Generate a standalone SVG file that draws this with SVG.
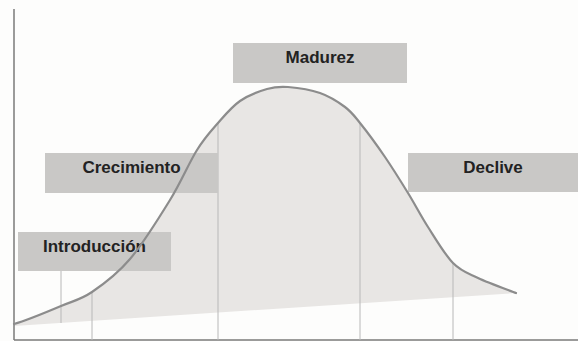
<svg xmlns="http://www.w3.org/2000/svg" width="578" height="341" viewBox="0 0 578 341">
<defs>
<style>
.box{fill:#c9c8c6}
.lbl{font-family:"Liberation Sans",Arial,sans-serif;font-weight:bold;font-size:17px;fill:#222;text-anchor:middle}
.vl{stroke:#b8b8b8;stroke-width:1;fill:none}
.curve{fill:none;stroke:#8c8c8c;stroke-width:2.2;stroke-linecap:round}
.axis{stroke:#7a7a7a;stroke-width:1.5;fill:none}
</style>
</defs>
<rect width="578" height="341" fill="#fdfdfc"/>
<g id="area">
<path fill="#e8e6e4" d="M14,324 C21.8,321.8 48,311.5 61,306 C74,300.5 80.5,299.8 92,292 C103.5,284.2 117,274.3 130,259 C143,243.7 158.8,218.2 170,200 C181.2,181.8 189,162.8 197,150 C205,137.2 210.8,131.2 218,123 C225.2,114.8 231.8,106.7 240,101 C248.2,95.3 259,91.3 267,89 C275,86.7 279.2,86.3 288,87 C296.8,87.7 310.5,89.7 320,93 C329.5,96.3 338.3,102 345,107 C351.7,112 353.3,114.7 360,123 C366.7,131.3 377,145.3 385,157 C393,168.7 400.8,181.3 408,193 C415.2,204.7 420.5,215.3 428,227 C435.5,238.7 444.7,254.5 453,263 C461.3,271.5 467.5,273 478,278 C488.5,283 509.7,290.5 516,293 L14,326 Z"/>
</g>
<g id="axes">
<line class="axis" x1="14" y1="9" x2="14" y2="340"/>
<line class="axis" x1="14" y1="340" x2="578" y2="340" stroke-width="1"/>
</g>
<g id="connectors">
<line class="vl" x1="61" y1="266" x2="61" y2="323"/>
<line class="vl" x1="92" y1="292" x2="92" y2="340"/>
<line class="vl" x1="218" y1="123" x2="218" y2="340"/>
<line class="vl" x1="360" y1="123" x2="360" y2="340"/>
<line class="vl" x1="453" y1="263" x2="453" y2="340"/>
</g>
<g id="madurez">
<rect class="box" x="233" y="43" width="174" height="40"/>
<text class="lbl" x="320" y="63">Madurez</text>
</g>
<g id="crecimiento">
<rect class="box" x="45" y="153" width="173" height="40"/>
<text class="lbl" x="131.5" y="173">Crecimiento</text>
</g>
<g id="introduccion">
<rect class="box" x="18" y="232" width="153" height="39"/>
<text class="lbl" x="94.5" y="252">Introducción</text>
</g>
<g id="declive">
<rect class="box" x="408" y="153" width="170" height="39"/>
<text class="lbl" x="493" y="173">Declive</text>
</g>
<g id="curve">
<path class="curve" d="M14,324 C21.8,321.8 48,311.5 61,306 C74,300.5 80.5,299.8 92,292 C103.5,284.2 117,274.3 130,259 C143,243.7 158.8,218.2 170,200 C181.2,181.8 189,162.8 197,150 C205,137.2 210.8,131.2 218,123 C225.2,114.8 231.8,106.7 240,101 C248.2,95.3 259,91.3 267,89 C275,86.7 279.2,86.3 288,87 C296.8,87.7 310.5,89.7 320,93 C329.5,96.3 338.3,102 345,107 C351.7,112 353.3,114.7 360,123 C366.7,131.3 377,145.3 385,157 C393,168.7 400.8,181.3 408,193 C415.2,204.7 420.5,215.3 428,227 C435.5,238.7 444.7,254.5 453,263 C461.3,271.5 467.5,273 478,278 C488.5,283 509.7,290.5 516,293"/>
</g>
</svg>
